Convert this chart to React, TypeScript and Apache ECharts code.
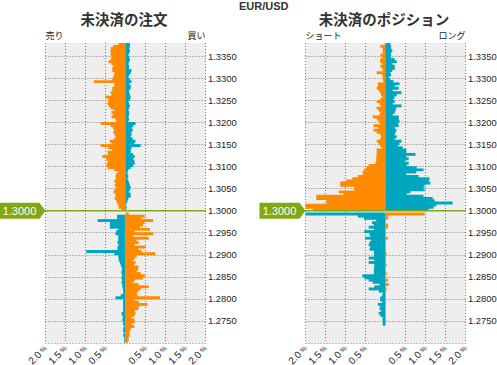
import React, { useEffect, useRef } from 'react';
import * as echarts from 'echarts';

const ORANGE = '#ff8a00';
const TEAL = '#00a6bf';
const GREEN = '#80a815';
const GRID_COLOR = '#7a7a7a';

const currentPrice = 1.3;
const pair = 'EUR/USD';
const titles = ['未決済の注文', '未決済のポジション'];
const sideLabels = [['売り', '買い'], ['ショート', 'ロング']];

// price buckets (lower edge), top to bottom
const levels = Array.from({ length: 136 }, (_, i) => (1.3375 - 0.0005 * i).toFixed(4));

// % values, top to bottom
const orderSell = [
  0.18, 0.31, 0.37, 0.37, 0.37, 0.37, 0.35, 0.37, 0.42, 0.35,
  0.31, 0.33, 0.33, 0.28, 0.28, 0.31, 0.33, 0.79, 0.28, 0.28,
  0.33, 0.33, 0.37, 0.35, 0.5, 0.43, 0.43, 0.45, 0.42, 0.37,
  0.28, 0.35, 0.31, 0.35, 0.25, 0.23, 0.62, 0.37, 0.31, 0.28,
  0.31, 0.27, 0.25, 0.28, 0.39, 0.35, 0.62, 0.43, 0.33, 0.45,
  0.43, 0.58, 0.48, 0.45, 0.45, 0.48, 0.45, 0.28, 0.18, 0.23,
  0.25, 0.23, 0.28, 0.25, 0.27, 0.23, 0.27, 0.3, 0.25, 0.25,
  0.27, 0.23, 0.21, 0.18, 0.17, 0.1, 0, 0, 0.21, 0.21,
  0.7, 0.39, 0.39, 0.39, 0.18, 0.23, 0.25, 0.18, 0.18, 0.18,
  0.2, 0.17, 0.2, 0.2, 0.98, 0.28, 0.18, 0.17, 0.17, 0.14,
  0.12, 0.1, 0.08, 0.1, 0.1, 0.08, 0.1, 0.08, 0.1, 0.08,
  0.08, 0.06, 0.06, 0.06, 0.12, 0.25, 0.06, 0.06, 0.06, 0.06,
  0.06, 0.06, 0.1, 0.08, 0.06, 0.08, 0.06, 0.06, 0.03, 0.06,
  0.06, 0.03, 0.06, 0.03, 0.03, 0.03,
];
const orderBuy = [
  0.11, 0.11, 0.09, 0.11, 0.09, 0.07, 0.09, 0.11, 0.09, 0.07,
  0.09, 0.09, 0.15, 0.13, 0.09, 0.07, 0.11, 0.15, 0.09, 0.13,
  0.13, 0.09, 0.09, 0.11, 0.13, 0.11, 0.07, 0.09, 0.11, 0.09,
  0.07, 0.09, 0.09, 0.07, 0.09, 0.07, 0.25, 0.19, 0.15, 0.18,
  0.15, 0.15, 0.13, 0.18, 0.25, 0.22, 0.38, 0.15, 0.13, 0.13,
  0.19, 0.23, 0.19, 0.22, 0.23, 0.19, 0.13, 0.07, 0.05, 0.05,
  0.07, 0.05, 0.07, 0.09, 0.11, 0.13, 0.11, 0.08, 0.13, 0.13,
  0.07, 0.05, 0.03, 0.01, 0.03, 0.01, 0, 0.08, 0.48, 0.4,
  0.69, 0.47, 0.44, 0.36, 0.61, 0.23, 0.69, 0.19, 0.58, 0.28,
  0.33, 0.23, 0.5, 0.32, 0.4, 0.75, 0.28, 0.23, 0.19, 0.25,
  0.22, 0.32, 0.32, 0.28, 0.38, 0.48, 0.44, 0.23, 0.19, 0.33,
  0.58, 0.38, 0.32, 0.28, 0.3, 0.86, 0.23, 0.33, 0.55, 0.33,
  0.32, 0.23, 0.25, 0.22, 0.15, 0.22, 0.23, 0.15, 0.22, 0.13,
  0.11, 0.09, 0.11, 0.07, 0.08, 0.05,
];
const posShort = [
  0.02, 0.13, 0.07, 0.07, 0.07, 0.13, 0.08, 0.13, 0.13, 0.08,
  0.13, 0.08, 0.07, 0.22, 0.08, 0.07, 0.07, 0.05, 0.19, 0.19,
  0.22, 0.17, 0.13, 0.11, 0.08, 0.13, 0.22, 0.15, 0.11, 0.22,
  0.17, 0.13, 0.15, 0.32, 0.22, 0.17, 0.13, 0.3, 0.17, 0.3,
  0.22, 0.13, 0.11, 0.13, 0.22, 0.17, 0.13, 0.08, 0.22, 0.22,
  0.22, 0.23, 0.23, 0.23, 0.25, 0.42, 0.48, 0.53, 0.57, 0.57,
  0.69, 0.83, 0.98, 1.13, 1.13, 0.78, 0.78, 1.17, 1.05, 1.73,
  1.73, 1.48, 1.47, 2.05, 2.05, 1.82, 0, 2.05, 0.69, 0.54,
  0.23, 0.34, 0.29, 0.42, 0.29, 0.53, 0.4, 0.38, 0.51, 0.36,
  0.4, 0.42, 0.38, 0.4, 0.29, 0.29, 0.29, 0.42, 0.28, 0.42,
  0.28, 0.28, 0.29, 0.29, 0.29, 0.58, 0.53, 0.42, 0.32, 0.15,
  0.28, 0.42, 0.17, 0.07, 0.08, 0.13, 0.13, 0.08, 0.19, 0.13,
  0.15, 0.11, 0.17, 0.13, 0.07, 0.07, 0.07, 0.07, 0, 0,
  0, 0, 0, 0, 0, 0,
];
const posLong = [
  0.12, 0.14, 0.14, 0.17, 0.14, 0.14, 0.14, 0.23, 0.28, 0.17,
  0.23, 0.23, 0.17, 0.12, 0.14, 0.08, 0.12, 0.2, 0.35, 0.23,
  0.33, 0.18, 0.4, 0.28, 0.23, 0.2, 0.23, 0.18, 0.4, 0.27,
  0.25, 0.23, 0.18, 0.33, 0.33, 0.35, 0.31, 0.33, 0.23, 0.27,
  0.25, 0.23, 0.28, 0.23, 0.4, 0.35, 0.31, 0.43, 0.52, 0.52,
  0.75, 0.52, 0.58, 0.48, 0.58, 0.53, 0.78, 0.95, 0.77, 0.52,
  0.83, 1.1, 1.08, 1.12, 0.98, 0.95, 0.98, 0.62, 0.53, 0.95,
  1.18, 1.23, 1.68, 1.27, 1.2, 1.08, 0, 0.98, 0.06, 0.06,
  0, 0, 0.06, 0.06, 0, 0, 0, 0, 0.06, 0,
  0, 0, 0, 0, 0, 0.03, 0, 0, 0, 0,
  0.03, 0, 0, 0, 0.03, 0, 0, 0.06, 0, 0.08,
  0, 0.03, 0, 0, 0, 0, 0, 0, 0, 0,
  0, 0, 0, 0, 0, 0, 0, 0, 0, 0,
  0, 0, 0, 0, 0, 0,
];

const panels = [
  { left: orderSell, right: orderBuy },
  { left: posShort, right: posLong },
];
const gridLefts = [45.5, 305.5];
const GRID_TOP = 43;
const GRID_W = 160;
const GRID_H = 300;
const priceMin = 1.27;
const priceMax = 1.338;

const isAbove = (i: number) => Number(levels[i]) >= currentPrice - 1e-9;

function panelSeries(idx: number, leftVals: number[], rightVals: number[]) {
  const base = {
    type: 'bar',
    xAxisIndex: idx,
    yAxisIndex: idx * 2,
    stack: 'p' + idx,
    barWidth: 2.9,
    silent: true,
  };
  return [
    { ...base, itemStyle: { color: ORANGE }, data: leftVals.map((v, i) => (isAbove(i) && v ? -v : '-')) },
    { ...base, itemStyle: { color: TEAL }, data: leftVals.map((v, i) => (!isAbove(i) && v ? -v : '-')) },
    { ...base, itemStyle: { color: TEAL }, data: rightVals.map((v, i) => (isAbove(i) && v ? v : '-')) },
    { ...base, itemStyle: { color: ORANGE }, data: rightVals.map((v, i) => (!isAbove(i) && v ? v : '-')) },
    {
      type: 'line',
      xAxisIndex: idx,
      yAxisIndex: idx * 2 + 1,
      data: [[-2, currentPrice], [2, currentPrice]],
      symbol: 'none',
      clip: false,
      silent: true,
      z: 5,
      lineStyle: { color: GREEN, width: 1.5 },
      markPoint: {
        silent: true,
        symbol: 'path://M0 0H40L46 8L40 16H0Z',
        symbolSize: [46, 16],
        symbolOffset: [-23, 0],
        itemStyle: { color: GREEN },
        label: {
          show: true,
          position: 'inside',
          formatter: currentPrice.toFixed(4),
          color: '#ffffff',
          fontSize: 11,
          fontFamily: '"Liberation Sans", Arial, sans-serif',
          offset: [-3, 0],
        },
        data: [{ coord: [-2, currentPrice] }],
      },
    },
  ];
}

export default function App() {
  const ref = useRef<HTMLDivElement>(null);
  useEffect(() => {
    if (!ref.current) return;
    const chart = echarts.init(ref.current, undefined, { renderer: 'svg' });
    const font = '"Liberation Sans", Arial, sans-serif';
    const xColors = [GRID_COLOR, GRID_COLOR, GRID_COLOR, GRID_COLOR, 'rgba(0,0,0,0)', GRID_COLOR, GRID_COLOR, GRID_COLOR, GRID_COLOR];
    const yColors = Array.from({ length: 15 }, (_, i) => (i === 14 ? 'rgba(0,0,0,0)' : GRID_COLOR));

    const grids = gridLefts.map((l) => ({
      left: l,
      top: GRID_TOP,
      width: GRID_W,
      height: GRID_H,
      show: true,
      backgroundColor: '#eeeeee',
      borderWidth: 0,
      containLabel: false,
      outerBoundsMode: 'none',
    }));

    const xAxes = [0, 1].map((g) => ({
      type: 'value',
      gridIndex: g,
      min: -2,
      max: 2,
      interval: 0.5,
      axisLine: { show: false },
      axisTick: { show: false },
      splitLine: { show: true, lineStyle: { color: xColors, type: [1, 2], width: 1 } },
      axisLabel: {
        rotate: 45,
        margin: 4,
        fontSize: 10,
        color: '#222',
        fontFamily: font,
        formatter: (v: number) => (Math.abs(v) < 1e-9 ? '' : `${Math.abs(v).toFixed(1)}{p| %}`),
        rich: { p: { fontSize: 7, color: '#222', fontFamily: font } },
      },
    }));

    const yAxes: any[] = [];
    [0, 1].forEach((g) => {
      yAxes.push({
        type: 'category',
        gridIndex: g,
        data: levels,
        inverse: true,
        show: false,
        boundaryGap: true,
      });
      yAxes.push({
        type: 'value',
        gridIndex: g,
        position: 'right',
        min: priceMin,
        max: priceMax,
        interval: 0.005,
        axisLine: { show: false },
        axisTick: { show: false },
        splitLine: { show: true, showMaxLine: false, lineStyle: { color: yColors, type: [1, 2], width: 1 } },
        axisLabel: {
          margin: 2.5,
          fontSize: 9.4,
          color: '#222',
          fontFamily: font,
          showMinLabel: false,
          showMaxLabel: false,
          formatter: (v: number) => v.toFixed(4),
        },
      });
    });

    const series: any[] = [];
    panels.forEach((p, i) => series.push(...panelSeries(i, p.left, p.right)));

    const cjk = '"Noto Sans CJK JP", sans-serif';
    const graphic: any[] = [
      { type: 'text', x: 239, y: 6, style: { text: pair, font: `bold 11px ${font}`, fill: '#333', verticalAlign: 'middle' } },
    ];
    [0, 1].forEach((g) => {
      const l = gridLefts[g];
      graphic.push({
        type: 'text',
        x: l + GRID_W / 2 - 1.5,
        y: 18.5,
        style: { text: titles[g], fontSize: 14.5, fontWeight: 'bold', fontFamily: cjk, fill: '#333', align: 'center', verticalAlign: 'middle' },
      });
      graphic.push({
        type: 'text',
        x: l,
        y: 35.5,
        style: { text: sideLabels[g][0], fontSize: 9, fontFamily: cjk, fill: '#222', align: 'left', verticalAlign: 'middle' },
      });
      graphic.push({
        type: 'text',
        x: l + GRID_W,
        y: 35.5,
        style: { text: sideLabels[g][1], fontSize: 9, fontFamily: cjk, fill: '#222', align: 'right', verticalAlign: 'middle' },
      });
    });

    chart.setOption({
      animation: false,
      backgroundColor: '#ffffff',
      grid: grids,
      xAxis: xAxes,
      yAxis: yAxes,
      series,
      graphic,
    });
    return () => chart.dispose();
  }, []);
  return <div ref={ref} style={{ position: 'absolute', left: 0, top: 0, width: 497, height: 365 }} />;
}
